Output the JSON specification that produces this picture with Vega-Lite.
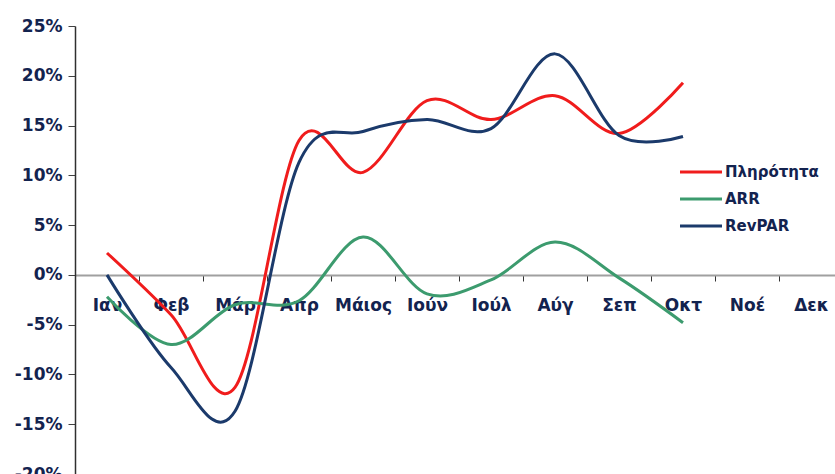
{
  "$schema": "https://vega.github.io/schema/vega-lite/v6.json",
  "autosize": {"type": "none"},
  "padding": {"left": 75, "top": 26, "right": 0, "bottom": 0},
  "width": 760,
  "height": 448,
  "background": "white",
  "config": {"view": {"stroke": null}},
  "data": {
    "values": [
      {"month": "Ιαν", "series": "Πληρότητα", "value": 2.2},
      {"month": "Φεβ", "series": "Πληρότητα", "value": -4.0},
      {"month": "Μάρ", "series": "Πληρότητα", "value": -11.3},
      {"month": "Απρ", "series": "Πληρότητα", "value": 13.5},
      {"month": "Μάιος", "series": "Πληρότητα", "value": 10.3},
      {"month": "Ιούν", "series": "Πληρότητα", "value": 17.5},
      {"month": "Ιούλ", "series": "Πληρότητα", "value": 15.6},
      {"month": "Αύγ", "series": "Πληρότητα", "value": 18.0},
      {"month": "Σεπ", "series": "Πληρότητα", "value": 14.2},
      {"month": "Οκτ", "series": "Πληρότητα", "value": 19.3},
      {"month": "Ιαν", "series": "ARR", "value": -2.2},
      {"month": "Φεβ", "series": "ARR", "value": -7.0},
      {"month": "Μάρ", "series": "ARR", "value": -3.0},
      {"month": "Απρ", "series": "ARR", "value": -2.6},
      {"month": "Μάιος", "series": "ARR", "value": 3.8},
      {"month": "Ιούν", "series": "ARR", "value": -1.9},
      {"month": "Ιούλ", "series": "ARR", "value": -0.5},
      {"month": "Αύγ", "series": "ARR", "value": 3.3},
      {"month": "Σεπ", "series": "ARR", "value": -0.3},
      {"month": "Οκτ", "series": "ARR", "value": -4.8},
      {"month": "Ιαν", "series": "RevPAR", "value": 0.0},
      {"month": "Φεβ", "series": "RevPAR", "value": -9.3},
      {"month": "Μάρ", "series": "RevPAR", "value": -13.7},
      {"month": "Απρ", "series": "RevPAR", "value": 11.3},
      {"month": "Μάιος", "series": "RevPAR", "value": 14.4},
      {"month": "Ιούν", "series": "RevPAR", "value": 15.6},
      {"month": "Ιούλ", "series": "RevPAR", "value": 14.7},
      {"month": "Αύγ", "series": "RevPAR", "value": 22.2},
      {"month": "Σεπ", "series": "RevPAR", "value": 14.0},
      {"month": "Οκτ", "series": "RevPAR", "value": 13.9}
    ]
  },
  "mark": {"type": "line", "interpolate": "cardinal", "strokeWidth": 3},
  "encoding": {
    "x": {
      "field": "month",
      "type": "nominal",
      "sort": null,
      "scale": {
        "type": "band",
        "domain": ["Ιαν", "Φεβ", "Μάρ", "Απρ", "Μάιος", "Ιούν", "Ιούλ", "Αύγ", "Σεπ", "Οκτ", "Νοέ", "Δεκ"],
        "range": [0, 768],
        "paddingInner": 0,
        "paddingOuter": 0
      },
      "axis": {
        "title": null,
        "orient": "bottom",
        "offset": -199,
        "tickBand": "extent",
        "labelAngle": 0,
        "domainColor": "#a0a0a0",
        "domainWidth": 2,
        "tickColor": "#333333",
        "tickSize": 6,
        "labelPadding": 16,
        "labelFont": "DejaVu Sans",
        "labelFontWeight": "bold",
        "labelFontSize": 17,
        "labelColor": "#13234f"
      }
    },
    "y": {
      "field": "value",
      "type": "quantitative",
      "scale": {"domain": [-20, 25], "nice": false, "zero": false},
      "axis": {
        "title": null,
        "values": [-20, -15, -10, -5, 0, 5, 10, 15, 20, 25],
        "labelExpr": "datum.value + '%'",
        "grid": false,
        "domainColor": "#303030",
        "domainWidth": 1.5,
        "tickColor": "#404040",
        "tickSize": 7,
        "labelPadding": 6,
        "labelFont": "DejaVu Sans",
        "labelFontWeight": "bold",
        "labelFontSize": 17,
        "labelColor": "#13234f",
        "labelBound": false,
        "labelFlush": false
      }
    },
    "color": {
      "field": "series",
      "type": "nominal",
      "scale": {
        "domain": ["Πληρότητα", "ARR", "RevPAR"],
        "range": ["#f01c1c", "#3c9b6e", "#1b3a6b"]
      },
      "legend": {
        "title": null,
        "orient": "none",
        "legendX": 607,
        "legendY": 127,
        "symbolType": "M-1.2,0H1.2",
        "symbolSize": 1225,
        "symbolStrokeWidth": 3,
        "rowPadding": 0,
        "labelOffset": 5,
        "labelFont": "DejaVu Sans",
        "labelFontWeight": "bold",
        "labelFontSize": 15,
        "labelColor": "#13234f"
      }
    }
  }
}
